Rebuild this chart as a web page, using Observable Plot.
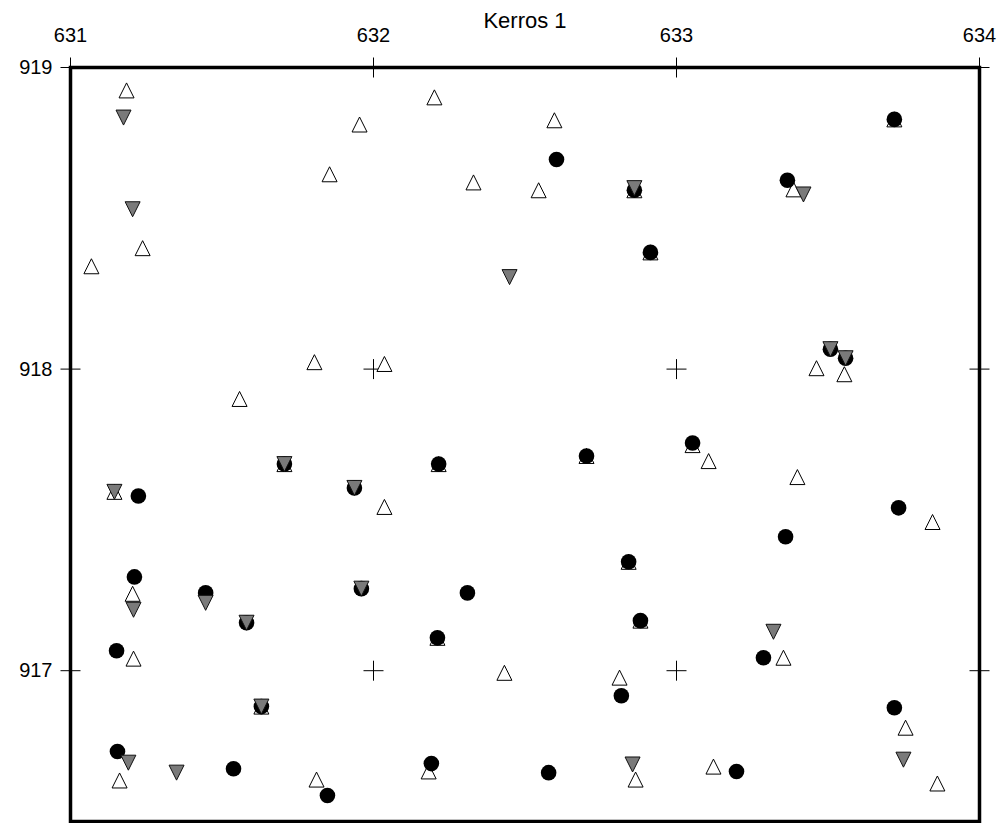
<!DOCTYPE html>
<html>
<head>
<meta charset="utf-8">
<script src="https://cdn.jsdelivr.net/npm/d3@7"></script>
<script src="https://cdn.jsdelivr.net/npm/@observablehq/plot@0.6"></script>
<style>
  body { margin: 0; background: #fff; }
  #chart svg { display: block; }
</style>
</head>
<body>
<div id="chart"></div>
<script>
// ---- Data ----
const title = "Kerros 1";
const xTicks = [631, 632, 633, 634];
const yTicks = [917, 918, 919];

// Open (white) up-triangles
const openX = [631.185, 631.954, 631.855, 631.238, 631.069, 631.805, 631.558, 632.201, 632.597, 632.330,
               632.545, 632.861, 632.914, 632.036, 633.719, 633.386, 633.462, 633.554, 631.706, 631.145,
               631.205, 631.208, 631.812, 631.162, 632.215, 632.703, 632.036, 632.842, 632.881, 632.211,
               632.432, 632.812, 632.182, 632.865, 633.053, 633.106, 633.399, 633.845, 633.353, 633.756,
               633.122, 633.861, 631.630];
const openY = [918.924, 918.811, 918.646, 918.401, 918.341, 918.023, 917.901, 918.901, 918.825, 918.619,
               918.593, 918.593, 918.387, 918.017, 918.828, 918.596, 918.003, 917.983, 917.685, 917.593,
               917.255, 917.040, 916.639, 916.636, 917.685, 917.712, 917.543, 917.361, 917.166, 917.109,
               916.993, 916.977, 916.666, 916.639, 917.748, 917.695, 917.642, 917.493, 917.043, 916.811,
               916.682, 916.626, 916.881];

// Black filled circles
const dotX = [632.604, 632.861, 632.914, 633.719, 633.366, 633.508, 633.558, 633.053, 631.706, 631.224,
              631.937, 631.211, 631.446, 631.581, 631.960, 631.152, 631.630, 631.155, 631.538, 631.848,
              632.215, 632.703, 632.842, 632.310, 632.881, 632.211, 632.818, 632.191, 632.578, 633.733,
              633.360, 633.287, 633.719, 633.198];
const dotY = [918.695, 918.593, 918.387, 918.828, 918.626, 918.066, 918.036, 917.755, 917.685, 917.579,
              917.606, 917.311, 917.258, 917.159, 917.272, 917.066, 916.881, 916.732, 916.675, 916.586,
              917.685, 917.712, 917.361, 917.258, 917.166, 917.109, 916.917, 916.692, 916.662, 917.540,
              917.444, 917.043, 916.877, 916.666];

// Grey down-triangles
const downX = [631.175, 631.205, 632.449, 632.861, 633.419, 633.508, 633.558, 631.706, 631.145, 631.937,
               631.208, 631.446, 631.581, 631.960, 631.630, 631.191, 631.350, 632.855, 633.320, 633.749];
const downY = [918.834, 918.530, 918.305, 918.600, 918.579, 918.066, 918.036, 917.685, 917.593, 917.606,
               917.202, 917.225, 917.159, 917.272, 916.881, 916.695, 916.662, 916.689, 917.129, 916.705];

// ---- Build tables ----
const zip = (xs, ys) => xs.map((x, i) => ({x, y: ys[i]}));
const openData = zip(openX, openY);
const dotData = zip(dotX, dotY);
const downData = zip(downX, downY);
const crossData = xTicks.flatMap(x => yTicks.map(y => ({x, y})));

// ---- Custom symbols ----
const triUp = {
  draw(ctx, size) {
    const r = Math.sqrt(size / Math.PI);
    ctx.moveTo(0, -r); ctx.lineTo(r, r); ctx.lineTo(-r, r); ctx.closePath();
  }
};
const triDown = {
  draw(ctx, size) {
    const r = Math.sqrt(size / Math.PI);
    ctx.moveTo(-r, -r); ctx.lineTo(r, -r); ctx.lineTo(0, r); ctx.closePath();
  }
};
const cross = {
  draw(ctx, size) {
    const r = Math.sqrt(size / Math.PI);
    ctx.moveTo(-r, 0); ctx.lineTo(r, 0);
    ctx.moveTo(0, -r); ctx.lineTo(0, r);
  }
};

const chart = Plot.plot({
  width: 1005,
  height: 823,
  marginLeft: 70,
  marginRight: 26,
  marginTop: 67,
  marginBottom: 2,
  style: {fontFamily: "'Liberation Sans', Arial, Helvetica, sans-serif", fontSize: "20px", background: "#fff", color: "#000"},
  x: {domain: [631, 634]},
  y: {domain: [916.5, 919]},
  marks: [
    Plot.axisX({anchor: "top", ticks: xTicks, tickSize: 0, tickPadding: 26, label: null, fontSize: 20, tickFormat: d => String(d)}),
    Plot.axisY({anchor: "left", ticks: yTicks, tickSize: 0, tickPadding: 18, label: null, fontSize: 20, tickFormat: d => String(d)}),
    Plot.text([title], {frameAnchor: "top", dy: -47, text: d => d, fontSize: 22, lineAnchor: "middle", fill: "black"}),
    Plot.dot(crossData, {x: "x", y: "y", symbol: cross, r: 10, fill: "none", stroke: "black", strokeWidth: 1}),
    Plot.dot(openData, {x: "x", y: "y", symbol: triUp, r: 7.5, fill: "white", stroke: "black", strokeWidth: 1}),
    Plot.dot(dotData, {x: "x", y: "y", symbol: "circle", r: 7.8, fill: "black", stroke: "none"}),
    Plot.dot(downData, {x: "x", y: "y", symbol: triDown, r: 7.5, fill: "#7a7a7a", stroke: "#111", strokeWidth: 1}),
    Plot.frame({stroke: "black", strokeWidth: 3.5})
  ]
});
document.getElementById("chart").append(chart);
</script>
</body>
</html>
